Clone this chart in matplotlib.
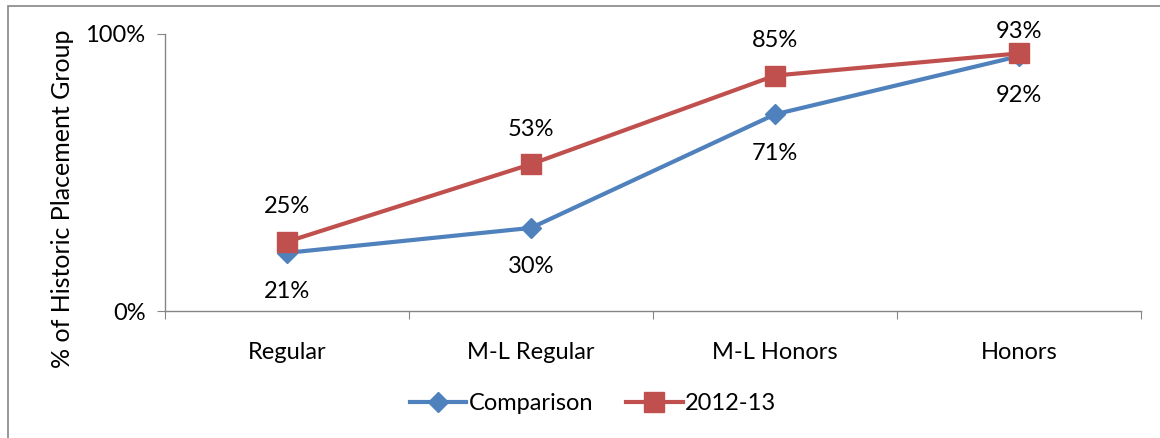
import matplotlib
matplotlib.use("Agg")
import matplotlib.pyplot as plt
from matplotlib.patches import Rectangle
import numpy as np

categories = ["Regular", "M-L Regular", "M-L Honors", "Honors"]
comparison = [21, 30, 71, 92]
year_2012 = [25, 53, 85, 93]
series_names = ["Comparison", "2012-13"]

plt.rcParams['font.family'] = ['Lato', 'DejaVu Sans']
FS = 17

fig = plt.figure(figsize=(11.6, 4.38), dpi=100)
ax = fig.add_axes([165/1160, 1-311/438, (1141-165)/1160, (311-34)/438])

x = np.arange(len(categories)) + 0.5
blue = "#4F81BD"
red = "#C0504D"
l1, = ax.plot(x, comparison, color=blue, lw=3, marker="D", ms=10, label=series_names[0], zorder=3)
l2, = ax.plot(x, year_2012, color=red, lw=3, marker="s", ms=14, label=series_names[1], zorder=4)

for xi, v in zip(x, comparison):
    ax.annotate(f"{v}%", (xi, v), xytext=(0, -39), textcoords="offset pixels",
                ha="center", va="center", fontsize=FS)
for xi, v in zip(x, year_2012):
    # keep the label inside the chart frame
    avail = 34 + (100 - v) * 2.77 - 32
    off = min(35, avail)
    ax.annotate(f"{v}%", (xi, v), xytext=(0, off), textcoords="offset pixels",
                ha="center", va="center", fontsize=FS)

ax.set_xlim(0, len(categories))
ax.set_ylim(0, 100)
ax.set_yticks([0, 100])
ax.set_yticklabels(["0%", "100%"], fontsize=FS)
ax.set_xticks(np.arange(len(categories) + 1))
ax.set_xticklabels([])
ax.set_xticks(x, minor=True)
ax.set_xticklabels(categories, minor=True, fontsize=FS)
ax.tick_params(axis="x", which="minor", length=0, pad=22)
ax.tick_params(axis="x", which="major", length=6, color="#868686", direction="out")
ax.tick_params(axis="y", length=6, color="#868686", pad=8)
for s in ["top", "right"]:
    ax.spines[s].set_visible(False)
for s in ["left", "bottom"]:
    ax.spines[s].set_color("#868686")
    ax.spines[s].set_linewidth(1)

ax.set_ylabel("% of Historic Placement Group", fontsize=18)
ax.yaxis.set_label_coords(-91/976, 0.404)

fig.legend(handles=[l1, l2], loc="center", bbox_to_anchor=(593/1160, 1-404/438),
           ncol=2, frameon=False, fontsize=FS, handlelength=2.4, handletextpad=0.1,
           columnspacing=1.4)

fig.patches.append(Rectangle((8/1160, -0.1), 1.2, 1 - 6/438 + 0.1, transform=fig.transFigure,
                             fill=False, edgecolor="#868686", lw=1.2))

fig.savefig("out.png", dpi=100)
